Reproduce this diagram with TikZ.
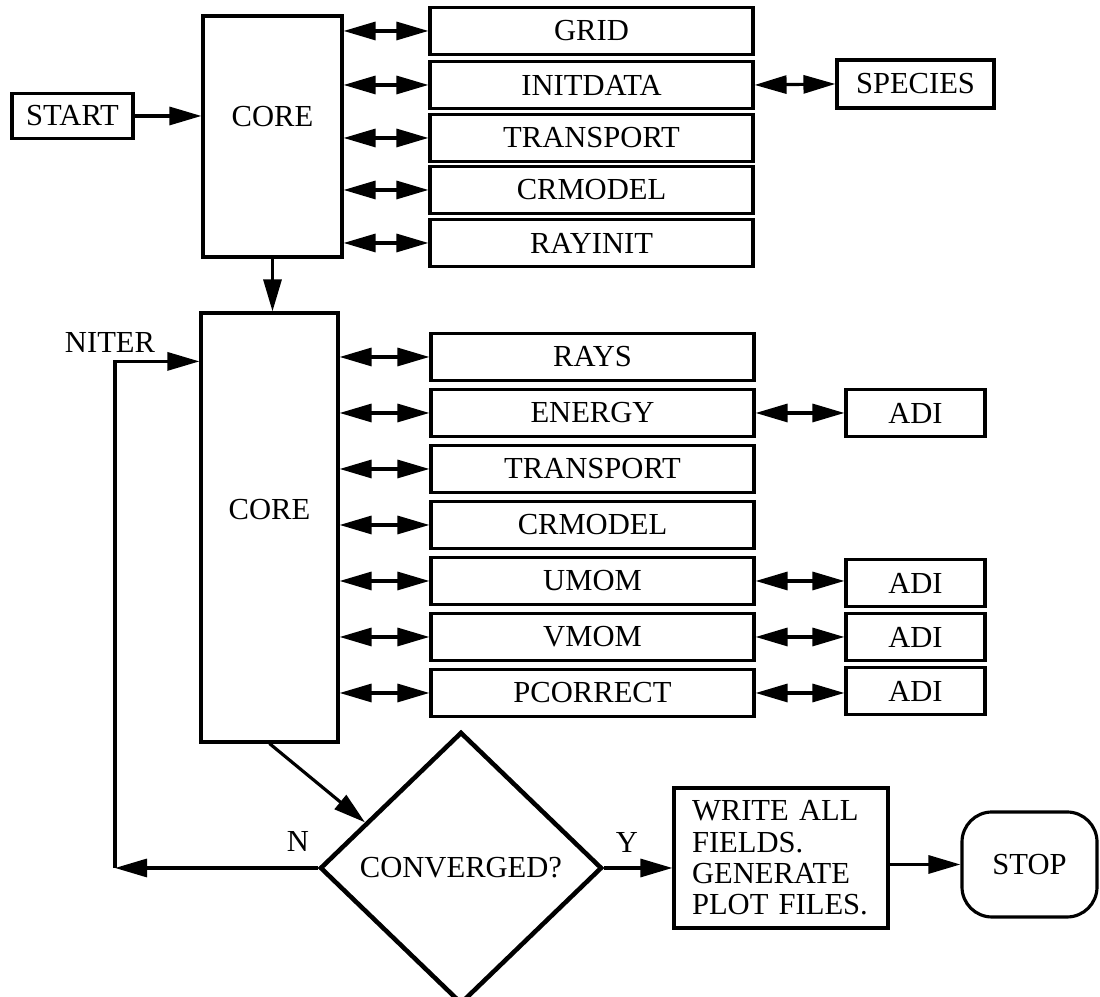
\documentclass[tikz,border=0pt]{standalone}
\usepackage{fontspec}
\setmainfont{Liberation Serif}
\usetikzlibrary{arrows.meta,calc,shapes.geometric}

\begin{document}
\begin{tikzpicture}[>={Triangle[length=3.2mm,width=1.8mm]},line width=0.9pt,
  every node/.style={font=\fontsize{8.7}{8.9}\selectfont},
  box/.style={draw,rectangle,inner sep=0pt,minimum width=3.23cm,minimum height=0.47cm},
  subbox/.style={box,minimum width=1.39cm}]
  \useasboundingbox (0,0) rectangle (11,9.97);
  % start and first core
  \node[box,minimum width=1.21cm,minimum height=0.45cm] (start) at (0.725,8.81) {START};
  \node[box,minimum width=1.39cm,minimum height=2.41cm] (core1) at (2.725,8.605) {};
  \node (core1txt) at (2.725,8.80) {CORE};
  \draw[->] (start) -- (start -| core1.west);
  \node[box] (grid) at (5.915,9.66) {GRID};
  \node[box] (initdata) at (5.915,9.12) {INITDATA};
  \node[box] (transp1) at (5.915,8.59) {TRANSPORT};
  \node[box] (crmod1) at (5.915,8.07) {CRMODEL};
  \node[box] (rayinit) at (5.915,7.54) {RAYINIT};
  \node[box,minimum width=1.57cm,minimum height=0.48cm] (species) at (9.155,9.13) {SPECIES};
  \draw[<->] (core1.east |- grid) -- (grid.west);
  \draw[<->] (core1.east |- initdata) -- (initdata.west);
  \draw[<->] (core1.east |- transp1) -- (transp1.west);
  \draw[<->] (core1.east |- crmod1) -- (crmod1.west);
  \draw[<->] (core1.east |- rayinit) -- (rayinit.west);
  \draw[<->] (initdata.east) -- (species.west);

  % iteration loop
  \node[box,minimum width=1.37cm,minimum height=4.29cm] (core2) at (2.695,4.695) {};
  \node (core2txt) at (2.695,4.87) {CORE};
  \draw[->] (core1.south) -- (core1.south |- core2.north);
  \node[box] (rays) at (5.925,6.40) {RAYS};
  \node[box] (energy) at (5.925,5.84) {ENERGY};
  \node[box] (transp2) at (5.925,5.28) {TRANSPORT};
  \node[box] (crmod2) at (5.925,4.72) {CRMODEL};
  \node[box] (umom) at (5.925,4.16) {UMOM};
  \node[box] (vmom) at (5.925,3.60) {VMOM};
  \node[box] (pcorr) at (5.925,3.04) {PCORRECT};
  \node[subbox] (adi1) at (9.155,5.84) {ADI};
  \node[subbox] (adi2) at (9.155,4.14) {ADI};
  \node[subbox] (adi3) at (9.155,3.60) {ADI};
  \node[subbox] (adi4) at (9.155,3.06) {ADI};
  \draw[<->] (core2.east |- rays) -- (rays.west);
  \draw[<->] (core2.east |- energy) -- (energy.west);
  \draw[<->] (core2.east |- transp2) -- (transp2.west);
  \draw[<->] (core2.east |- crmod2) -- (crmod2.west);
  \draw[<->] (core2.east |- umom) -- (umom.west);
  \draw[<->] (core2.east |- vmom) -- (vmom.west);
  \draw[<->] (core2.east |- pcorr) -- (pcorr.west);
  \draw[<->] (energy.east) -- (energy.east -| adi1.west);
  \draw[<->] (umom.east) -- (umom.east -| adi2.west);
  \draw[<->] (vmom.east) -- (vmom.east -| adi3.west);
  \draw[<->] (pcorr.east) -- (pcorr.east -| adi4.west);

  % convergence test
  \node[draw,diamond,inner sep=0pt,minimum width=2.82cm,minimum height=2.72cm,line width=1.3pt] (conv) at (4.61,1.29) {CONVERGED?};
  \draw[->] (core2.south) -- ($(conv.west)!0.33!(conv.north)$);
  \coordinate (loopc) at (1.15,1.29);
  \draw[->] (conv.west) -- (loopc);
  \draw[->] (loopc) |- ([yshift=-0.5cm]core2.north west);
  \node (niter) at (1.10,6.54) {NITER};
  \node (nlab) at (2.98,1.55) {N};
  \node (ylab) at (6.27,1.54) {Y};
  \node[box,minimum width=2.14cm,minimum height=1.40cm,inner xsep=0.18cm,text width=1.78cm,align=left] (write) at (7.81,1.39) {WRITE ALL\\FIELDS.\\GENERATE\\PLOT FILES.};
  \node[draw,rounded corners=0.3cm,minimum width=1.35cm,minimum height=1.05cm] (stop) at (10.295,1.325) {STOP};
  \draw[->] (conv.east) -- (conv.east -| write.west);
  \draw[->] (write.east |- stop) -- (stop.west);
\end{tikzpicture}
\end{document}
